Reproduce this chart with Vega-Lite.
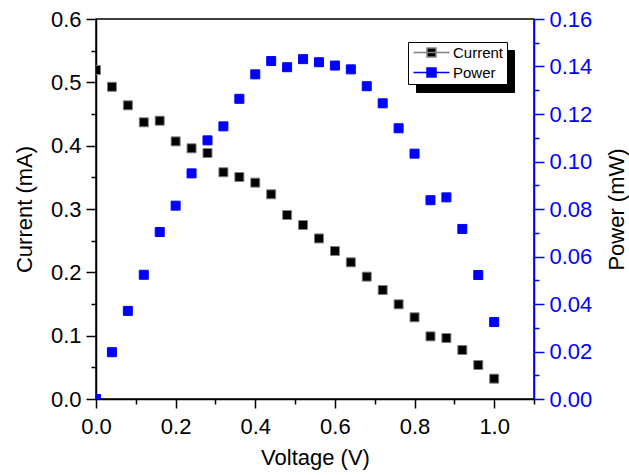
{
  "$schema": "https://vega.github.io/schema/vega-lite/v6.json",
  "autosize": "none",
  "width": 438,
  "height": 380,
  "padding": {"left": 96, "top": 19, "right": 95, "bottom": 76},
  "background": "white",
  "config": {
    "font": "Liberation Sans",
    "view": {"stroke": "black", "strokeWidth": 1.5},
    "axis": {
      "labelFont": "Liberation Sans",
      "titleFont": "Liberation Sans",
      "labelFontSize": 22,
      "titleFontSize": 22,
      "titleFontWeight": "normal",
      "grid": false,
      "domainWidth": 1.5,
      "tickWidth": 1.5,
      "labelColor": "black",
      "titleColor": "black",
      "domainColor": "black",
      "tickColor": "black"
    }
  },
  "data": {
    "values": [
      {"V": 0.00, "I": 0.5195, "P": 0.0},
      {"V": 0.04, "I": 0.493, "P": 0.0197},
      {"V": 0.08, "I": 0.4637, "P": 0.0371},
      {"V": 0.12, "I": 0.4369, "P": 0.0523},
      {"V": 0.16, "I": 0.4394, "P": 0.0703},
      {"V": 0.20, "I": 0.4068, "P": 0.0814},
      {"V": 0.24, "I": 0.3958, "P": 0.095},
      {"V": 0.28, "I": 0.3884, "P": 0.1089},
      {"V": 0.32, "I": 0.358, "P": 0.1148},
      {"V": 0.36, "I": 0.3505, "P": 0.1264},
      {"V": 0.40, "I": 0.3416, "P": 0.1367},
      {"V": 0.44, "I": 0.3232, "P": 0.1423},
      {"V": 0.48, "I": 0.2905, "P": 0.1397},
      {"V": 0.52, "I": 0.2747, "P": 0.1431},
      {"V": 0.56, "I": 0.2535, "P": 0.1418},
      {"V": 0.60, "I": 0.2337, "P": 0.1404},
      {"V": 0.64, "I": 0.2158, "P": 0.1388},
      {"V": 0.68, "I": 0.1932, "P": 0.1317},
      {"V": 0.72, "I": 0.1721, "P": 0.1245},
      {"V": 0.76, "I": 0.1495, "P": 0.114},
      {"V": 0.80, "I": 0.129, "P": 0.1033},
      {"V": 0.84, "I": 0.0989, "P": 0.0837},
      {"V": 0.88, "I": 0.0963, "P": 0.0849},
      {"V": 0.92, "I": 0.0774, "P": 0.0716},
      {"V": 0.96, "I": 0.0537, "P": 0.0522},
      {"V": 1.00, "I": 0.0321, "P": 0.0324}
    ]
  },
  "encoding": {
    "x": {
      "field": "V",
      "type": "quantitative",
      "scale": {"domain": [0, 1.1], "nice": false, "zero": false},
      "axis": {
        "title": "Voltage (V)",
        "values": [0, 0.1, 0.2, 0.3, 0.4, 0.5, 0.6, 0.7, 0.8, 0.9, 1.0, 1.1],
        "labelExpr": "(round(datum.value*10) % 2 == 0 && datum.value < 1.05) ? format(datum.value, '.1f') : ''",
        "tickSize": {"condition": {"test": "round(datum.value*10) % 2 == 0", "value": 9}, "value": 5},
        "labelPadding": 8,
        "titlePadding": 10,
        "labelFlush": false
      }
    }
  },
  "layer": [
    {
      "mark": {"type": "point", "shape": "square", "filled": true, "size": 81, "opacity": 1, "clip": true, "strokeWidth": 1},
      "encoding": {
        "y": {
          "field": "I",
          "type": "quantitative",
          "scale": {"domain": [0, 0.6], "nice": false},
          "axis": {
            "title": "Current (mA)",
            "orient": "left",
            "values": [0, 0.05, 0.1, 0.15, 0.2, 0.25, 0.3, 0.35, 0.4, 0.45, 0.5, 0.55, 0.6],
            "labelExpr": "round(datum.value*20) % 2 == 0 ? format(datum.value, '.1f') : ''",
            "tickSize": {"condition": {"test": "round(datum.value*20) % 2 == 0", "value": 10}, "value": 5},
            "labelPadding": 5,
            "titlePadding": 14
          }
        },
        "color": {
          "datum": "Current",
          "type": "nominal",
          "scale": {"domain": ["Current", "Power"], "range": ["black", "#0000ff"]},
          "legend": {
            "title": null,
            "orient": "none",
            "legendX": 312,
            "legendY": 23,
            "zindex": 2,
            "fillColor": "white",
            "strokeColor": "black",
            "padding": 3,
            "labelFont": "Liberation Sans",
            "labelFontSize": 15,
            "labelColor": "black",
            "labelOffset": 14,
            "symbolOffset": 13,
            "symbolType": "M-4,0H4M-1,-1H1V1H-1Z",
            "symbolSize": 81,
            "symbolOpacity": 1,
            "rowPadding": 4
          }
        },
        "stroke": {
          "datum": "Current",
          "type": "nominal",
          "scale": {"domain": ["Current", "Power"], "range": ["#808080", "#0000ff"]},
          "legend": {
            "title": null,
            "orient": "none",
            "legendX": 312,
            "legendY": 23,
            "zindex": 2,
            "fillColor": "white",
            "strokeColor": "black",
            "padding": 3,
            "labelFont": "Liberation Sans",
            "labelFontSize": 15,
            "labelColor": "black",
            "labelOffset": 14,
            "symbolOffset": 13,
            "symbolType": "M-4,0H4M-1,-1H1V1H-1Z",
            "symbolSize": 81,
            "symbolOpacity": 1,
            "rowPadding": 4
          }
        },
        "opacity": {
          "datum": "Current_s",
          "type": "nominal",
          "scale": {"domain": ["Current_s", "Power_s"], "range": [1, 1]},
          "legend": {
            "title": null,
            "orient": "none",
            "legendX": 320,
            "legendY": 31,
            "zindex": 1,
            "fillColor": "black",
            "strokeColor": "black",
            "padding": 3,
            "labelFont": "Liberation Sans",
            "labelFontSize": 15,
            "labelColor": "black",
            "labelOffset": 64,
            "symbolOffset": 13,
            "symbolType": "M-4,0H4M-1,-1H1V1H-1Z",
            "symbolSize": 81,
            "symbolFillColor": "black",
            "symbolStrokeColor": "black",
            "rowPadding": 4,
            "labelExpr": "''"
          }
        }
      }
    },
    {
      "mark": {"type": "point", "shape": "square", "filled": true, "size": 81, "opacity": 1, "clip": true, "strokeWidth": 1},
      "encoding": {
        "y": {
          "field": "P",
          "type": "quantitative",
          "scale": {"domain": [0, 0.16], "nice": false},
          "axis": {
            "title": "Power (mW)",
            "orient": "right",
            "titleAngle": 270,
            "titleBaseline": "top",
            "values": [0, 0.01, 0.02, 0.03, 0.04, 0.05, 0.06, 0.07, 0.08, 0.09, 0.1, 0.11, 0.12, 0.13, 0.14, 0.15, 0.16],
            "labelExpr": "round(datum.value*100) % 2 == 0 ? format(datum.value, '.2f') : ''",
            "tickSize": {"condition": {"test": "round(datum.value*100) % 2 == 0", "value": 10}, "value": 5},
            "labelPadding": 5,
            "titlePadding": 15,
            "domainColor": "#0000ff",
            "tickColor": "#0000ff",
            "labelColor": "#0000ff",
            "titleColor": "black"
          }
        },
        "color": {"datum": "Power", "type": "nominal"},
        "stroke": {"datum": "Power", "type": "nominal"},
        "opacity": {"datum": "Power_s", "type": "nominal"}
      }
    }
  ],
  "resolve": {"scale": {"y": "independent"}}
}
